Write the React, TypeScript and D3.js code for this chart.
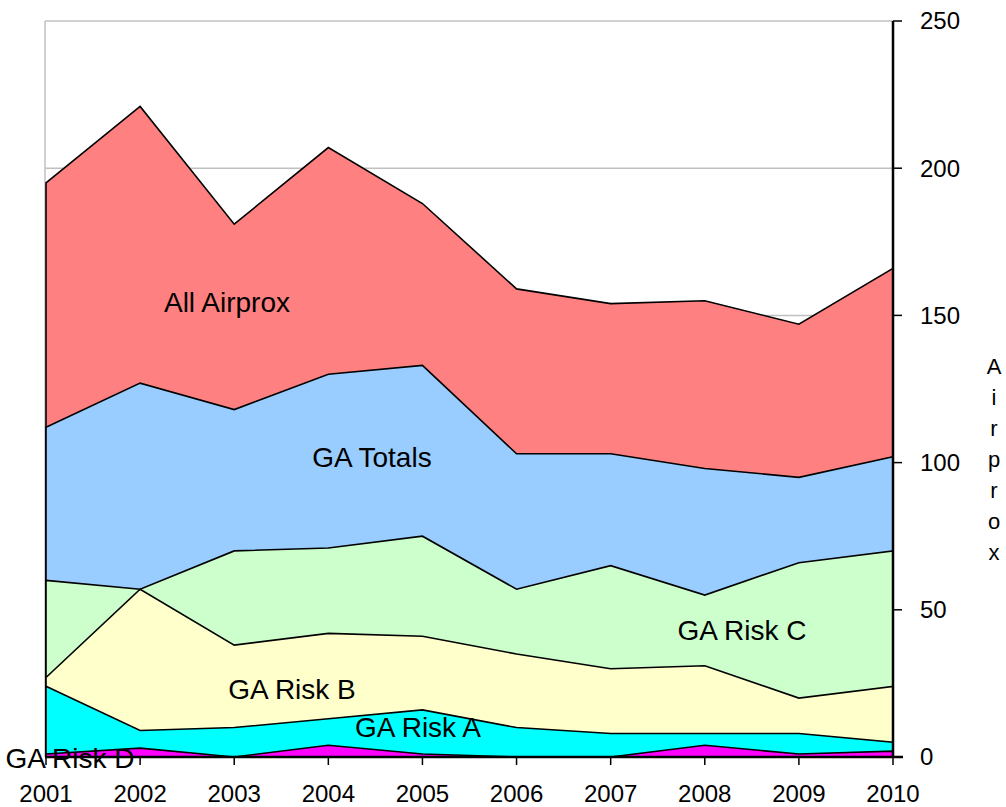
import React from 'react';
import * as d3 from 'd3';

// chart values
const years = ['2001', '2002', '2003', '2004', '2005', '2006', '2007', '2008', '2009', '2010'];
const allAirprox = [195, 221, 181, 207, 188, 159, 154, 155, 147, 166];
const gaTotals = [112, 127, 118, 130, 133, 103, 103, 98, 95, 102];
const gaRiskC = [60, 57, 70, 71, 75, 57, 65, 55, 66, 70];
const gaRiskB = [27, 57, 38, 42, 41, 35, 30, 31, 20, 24];
const gaRiskA = [24, 9, 10, 13, 16, 10, 8, 8, 8, 5];
const gaRiskD = [1, 3, 0, 4, 1, 0, 0, 4, 1, 2];
const yTicks = [0, 50, 100, 150, 200, 250];
const axisTitle = 'Airprox';

const font = '"Liberation Sans", Arial, sans-serif';

const App = () => {
    const width = 1006;
    const height = 807;
    const left = 46;
    const right = 893;
    const top = 21;
    const bottom = 757;

    const x = d3.scalePoint<string>().domain(years).range([left, right]);
    const y = d3.scaleLinear().domain([0, 250]).range([bottom, top]);

    const area = d3.area<number>()
        .x((_, i) => x(years[i]) as number)
        .y0(y(0))
        .y1(d => y(d));

    // back to front, each area drawn from zero (overlapping, not stacked)
    const series = [
        { name: 'All Airprox', values: allAirprox, color: '#FF8080', lx: 227, ly: 312 },
        { name: 'GA Totals', values: gaTotals, color: '#99CCFF', lx: 372, ly: 467 },
        { name: 'GA Risk C', values: gaRiskC, color: '#CCFFCC', lx: 742, ly: 640 },
        { name: 'GA Risk B', values: gaRiskB, color: '#FFFFCC', lx: 292, ly: 699 },
        { name: 'GA Risk A', values: gaRiskA, color: '#00FFFF', lx: 418, ly: 737 },
        { name: 'GA Risk D', values: gaRiskD, color: '#FF00FF', lx: 70, ly: 768 },
    ];

    return (
        <svg width={width} height={height} style={{ position: 'absolute', left: 0, top: 0, background: '#fff' }}
            fontFamily={font}>
            {/* grid lines */}
            {yTicks.filter(t => t > 0).map(t => (
                <line key={t} x1={left - 1} x2={right} y1={y(t)} y2={y(t)} stroke="#c0c0c0" strokeWidth={1.5} />
            ))}
            <line x1={left - 1} x2={left - 1} y1={top} y2={bottom} stroke="#c0c0c0" strokeWidth={1.5} />

            {/* areas */}
            {series.map(s => (
                <path key={s.name} d={area(s.values) + 'Z'} fill={s.color} stroke="#000" strokeWidth={1.6}
                    strokeLinejoin="miter" />
            ))}

            {/* x axis */}
            <line x1={left - 1} x2={right + 10} y1={bottom} y2={bottom} stroke="#000" strokeWidth={2.5} />
            {years.map(yr => (
                <g key={yr}>
                    <line x1={x(yr)} x2={x(yr)} y1={bottom} y2={bottom + 8} stroke="#000" strokeWidth={1.5} />
                    <text x={x(yr)} y={802} textAnchor="middle" fontSize={24} fill="#000">{yr}</text>
                </g>
            ))}

            {/* right y axis */}
            <line x1={right} x2={right} y1={top} y2={bottom} stroke="#000" strokeWidth={2.5} />
            {yTicks.map(t => (
                <g key={t}>
                    <line x1={right} x2={right + 9} y1={y(t)} y2={y(t)} stroke="#000" strokeWidth={1.5} />
                    <text x={920} y={y(t)} dy="0.35em" fontSize={24} fill="#000">{t}</text>
                </g>
            ))}
            {axisTitle.split('').map((ch, i) => (
                <text key={i} x={994} y={366 + i * 31} dy="0.35em" textAnchor="middle" fontSize={22} fill="#000">{ch}</text>
            ))}

            {/* series labels */}
            {series.map(s => (
                <text key={s.name + '-label'} x={s.lx} y={s.ly} textAnchor="middle" fontSize={28} fill="#000">{s.name}</text>
            ))}
        </svg>
    );
};

export default App;
